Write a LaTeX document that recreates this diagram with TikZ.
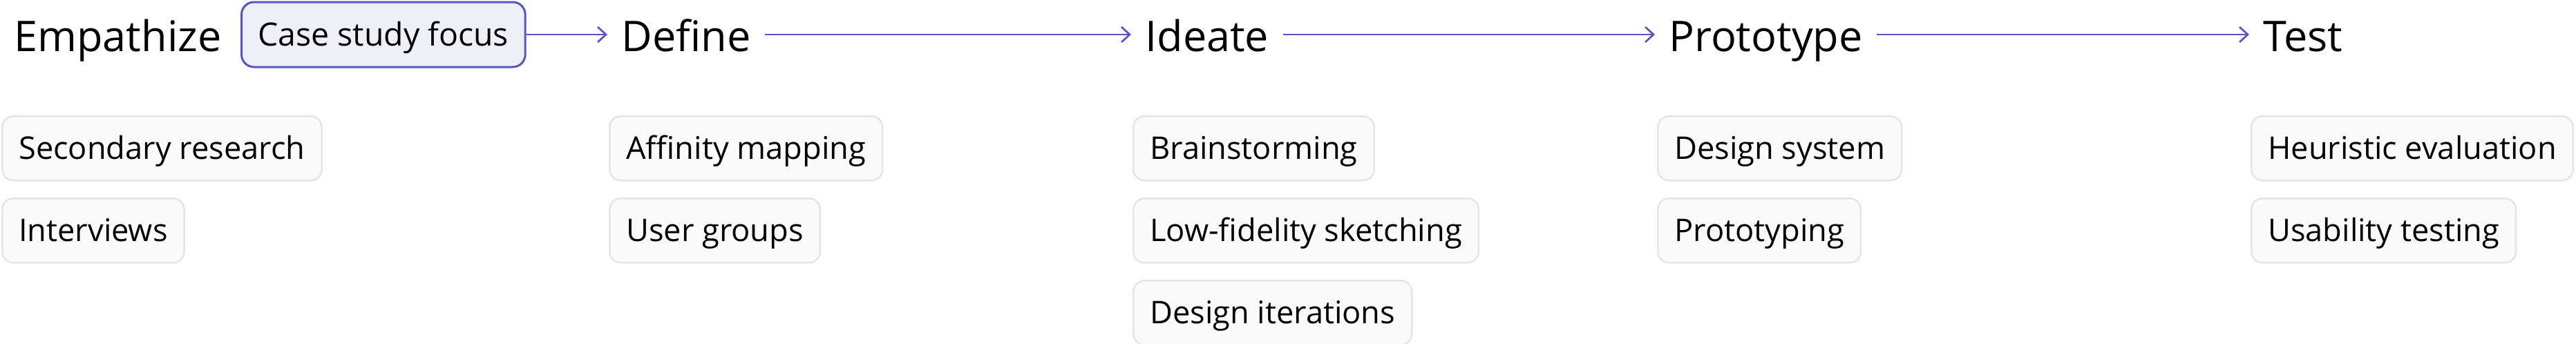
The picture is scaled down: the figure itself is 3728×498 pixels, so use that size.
\documentclass[tikz,border=0pt]{standalone}
\usepackage{fontspec}
\setmainfont{Open Sans}
\usetikzlibrary{arrows.meta}
\definecolor{accent}{RGB}{91,84,198}
\definecolor{accentfill}{RGB}{239,239,248}
\definecolor{itemfill}{RGB}{250,250,250}
\definecolor{itemborder}{RGB}{229,229,229}
\tikzset{
  head/.style={anchor=base west, inner xsep=10pt, inner ysep=0pt,
    font=\fontsize{30.6pt}{36pt}\selectfont, text=black},
  itembox/.style={anchor=north west, draw=itemborder, fill=itemfill, line width=1.25pt,
    rounded corners=8pt, inner xsep=12pt, inner ysep=0pt, minimum height=46.5pt,
    text height=16.2pt, text depth=0pt, font=\fontsize{22.6pt}{28pt}\selectfont},
  focusbox/.style={anchor=west, draw=accent, fill=accentfill, line width=1.5pt,
    rounded corners=9pt, inner xsep=12pt, inner ysep=0pt, minimum height=47pt,
    text height=16.6pt, text depth=0pt, font=\fontsize{23.2pt}{28pt}\selectfont},
  arr/.style={draw=accent, line width=1.35pt, -{Straight Barb[length=6pt,width=11pt]}}
}
\begin{document}
\begin{tikzpicture}[x=0.5pt,y=-0.5pt]
\useasboundingbox (0,0) rectangle (3728,498);
% headings
\node[head] (empathize) at (0,74) {Empathize};
\node[focusbox] (focus) at (348,50) {Case study focus};
\node[head] (define) at (879,74) {Define};
\node[head] (ideate) at (1637,74) {Ideate};
\node[head] (prototype) at (2395,74) {Prototype};
\node[head] (test) at (3255,74) {Test};
% arrows
\draw[arr] (focus.east) -- (focus.east -| define.west);
\draw[arr] (define.east |- focus.east) -- (ideate.west |- focus.east);
\draw[arr] (ideate.east |- focus.east) -- (prototype.west |- focus.east);
\draw[arr] (prototype.east |- focus.east) -- (test.west |- focus.east);
% items
\node[itembox] (e1) at (2,167) {Secondary research};
\node[itembox] (e2) at (2,286) {Interviews};
\node[itembox] (d1) at (881,167) {Affinity mapping};
\node[itembox] (d2) at (881,286) {User groups};
\node[itembox] (i1) at (1639,167) {Brainstorming};
\node[itembox] (i2) at (1639,286) {Low-fidelity sketching};
\node[itembox] (i3) at (1639,405) {Design iterations};
\node[itembox] (p1) at (2398,167) {Design system};
\node[itembox] (p2) at (2398,286) {Prototyping};
\node[itembox] (t1) at (3257,167) {Heuristic evaluation};
\node[itembox] (t2) at (3257,286) {Usability testing};
\end{tikzpicture}
\end{document}
